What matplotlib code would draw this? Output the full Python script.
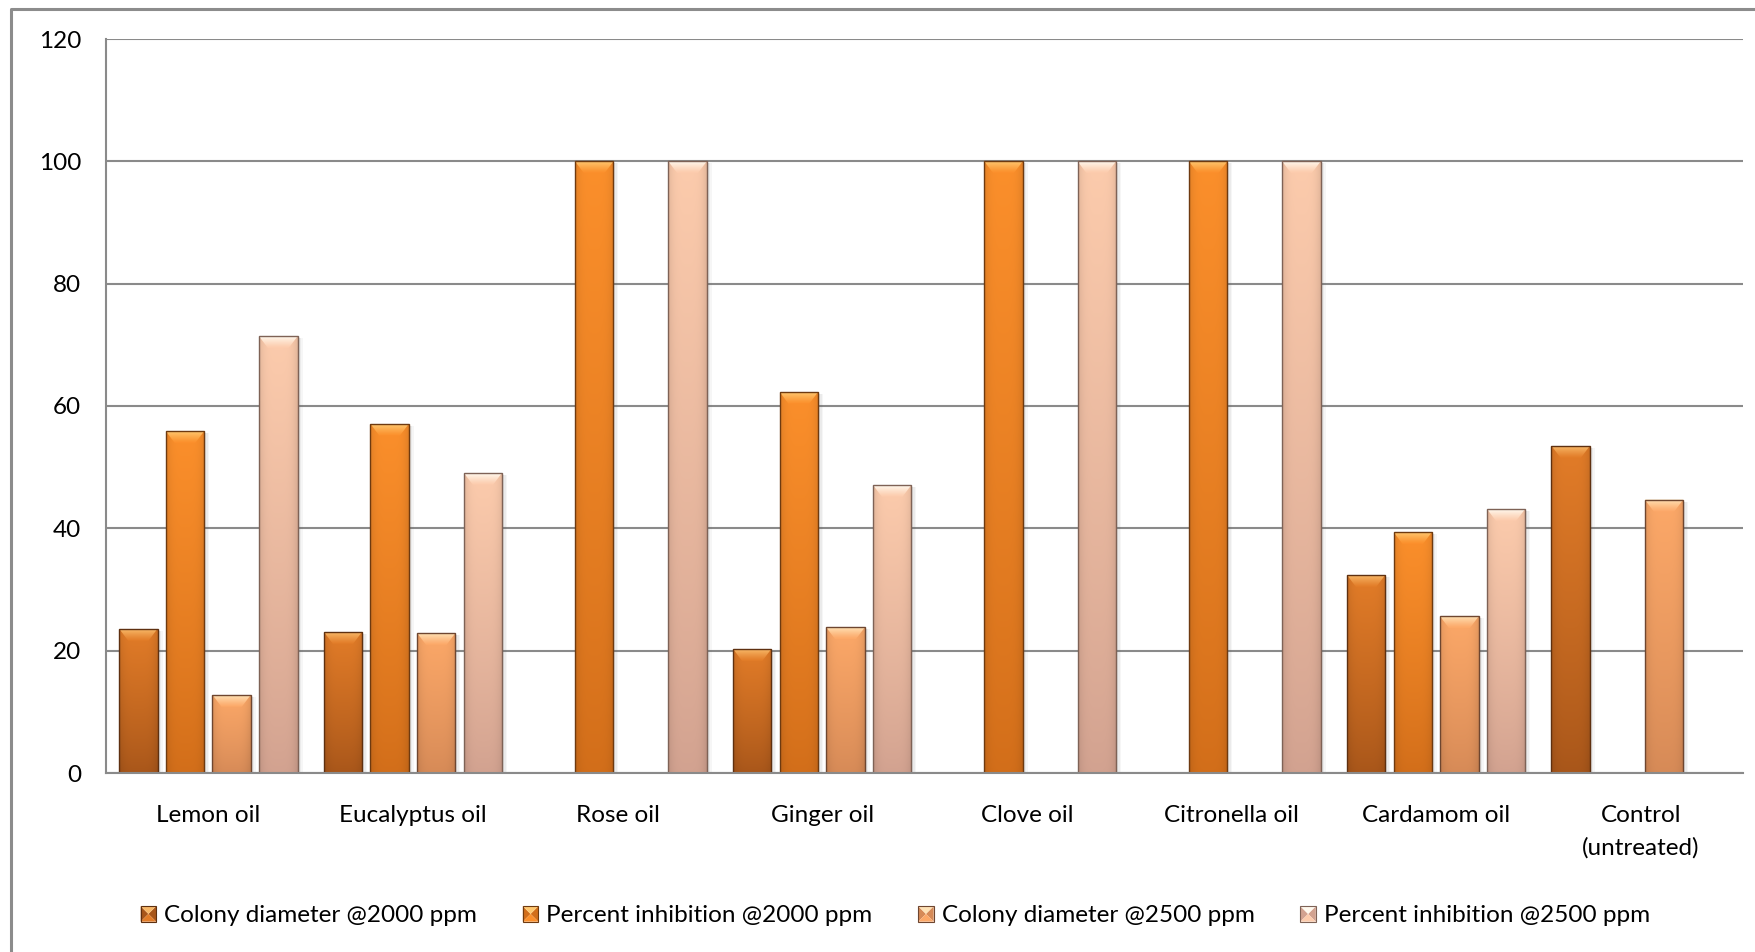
import numpy as np
import matplotlib
matplotlib.use("Agg")
import matplotlib.pyplot as plt
from matplotlib.patches import Polygon, Rectangle
from matplotlib.legend_handler import HandlerBase
from matplotlib.lines import Line2D
from matplotlib.colors import to_rgb

# ---- data -------------------------------------------------------------
categories = ["Lemon oil", "Eucalyptus oil", "Rose oil", "Ginger oil",
              "Clove oil", "Citronella oil", "Cardamom oil", "Control\n(untreated)"]
series_names = ["Colony diameter @2000 ppm", "Percent inhibition @2000 ppm",
                "Colony diameter @2500 ppm", "Percent inhibition @2500 ppm"]
colony_2000 = [23.6, 23.1, 0, 20.3, 0, 0, 32.4, 53.5]
inhibition_2000 = [55.9, 57.1, 100, 62.3, 100, 100, 39.4, 0]
colony_2500 = [12.8, 22.9, 0, 23.8, 0, 0, 25.6, 44.7]
inhibition_2500 = [71.4, 49.1, 100, 47.1, 100, 100, 43.2, 0]
y_ticks = [0, 20, 40, 60, 80, 100, 120]

series_values = [colony_2000, inhibition_2000, colony_2500, inhibition_2500]

# (top, bottom, highlight, edge) shades for each series
palette = [
    ("#E27C28", "#A8561A", "#F8B868", "#5E3010"),
    ("#FB8F2B", "#D26E1A", "#FFC870", "#6E3A10"),
    ("#FCA868", "#D68A57", "#FFE2B6", "#6E4630"),
    ("#FCCBAC", "#D2A290", "#FFF9EE", "#7E6256"),
]

plt.rcParams["font.family"] = ["Lato", "DejaVu Sans"]
FS = 17.5

W, H = 1756, 952
fig = plt.figure(figsize=(W / 100, H / 100), dpi=100)
fig.patch.set_facecolor("white")

left_px, right_px, top_px, bottom_px = 106, 1743, 39, 773
ax = fig.add_axes([left_px / W, 1 - bottom_px / H,
                   (right_px - left_px) / W, (bottom_px - top_px) / H])
ax.set_xlim(-0.5, len(categories) - 0.5)
ax.set_ylim(0, 120)

grid_col = "#8a8a8a"
ax.set_yticks(y_ticks)
ax.yaxis.grid(True, color=grid_col, linewidth=1.5)
ax.set_axisbelow(True)
for s in ["top", "right"]:
    ax.spines[s].set_visible(False)
for s in ["left", "bottom"]:
    ax.spines[s].set_color(grid_col)
    ax.spines[s].set_linewidth(1.5)
ax.tick_params(axis="y", length=0, pad=18, labelsize=FS)
ax.tick_params(axis="x", length=0, pad=23, labelsize=FS)
x = np.arange(len(categories))
ax.set_xticks(x)
ax.set_xticklabels(categories, linespacing=1.62)

# pixel -> data unit conversions
px_x = (len(categories)) / (right_px - left_px)
px_y = 120 / (bottom_px - top_px)

step, width = 0.228, 0.188


def body_image(top, bottom, nx=40, ny=120):
    t = np.linspace(0, 1, ny)[:, None, None]
    c_top = np.array(to_rgb(top))
    c_bot = np.array(to_rgb(bottom))
    col = c_bot + (c_top - c_bot) * t ** 0.85
    u = np.linspace(0, 1, nx)[None, :, None]
    side = 1 - 0.10 * (np.abs(u - 0.5) * 2) ** 4
    img = np.clip(col * side, 0, 1)
    return img


def bevel_image(hi, top, ny=30):
    t = np.linspace(0, 1, ny)[:, None, None]
    c_hi = np.array(to_rgb(hi))
    c_top = np.array(to_rgb(top))
    col = c_top + (c_hi - c_top) * t ** 1.2
    return np.repeat(col, 8, axis=1)


for i, (vals, (ctop, cbot, chi, cedge)) in enumerate(zip(series_values, palette)):
    bars = ax.bar(x + (i - 1.5) * step, vals, width, color=ctop,
                  linewidth=0, zorder=2, label=series_names[i])
    for p in bars.patches:
        h = p.get_height()
        if h <= 0:
            continue
        x0 = p.get_x()
        x1 = x0 + p.get_width()
        # soft shadow to the right
        for k, a in zip([5, 3.5, 2], [0.05, 0.07, 0.10]):
            ax.add_patch(Rectangle((x0 + k * px_x, 0), p.get_width(), h - 2 * px_y,
                                   facecolor="#606060", edgecolor="none",
                                   alpha=a, zorder=1.9))
        im = ax.imshow(body_image(ctop, cbot), extent=(x0, x1, 0, h),
                       origin="lower", aspect="auto", zorder=2.05,
                       interpolation="bilinear")
        im.set_clip_path(p)
        dx, dy = 9 * px_x, 12 * px_y
        dy = min(dy, h * 0.5)
        poly = Polygon([(x0, h), (x1, h), (x1 - dx, h - dy), (x0 + dx, h - dy)],
                       closed=True, transform=ax.transData)
        bim = ax.imshow(bevel_image(chi, ctop), extent=(x0, x1, h - dy, h),
                        origin="lower", aspect="auto", zorder=2.1,
                        interpolation="bilinear")
        bim.set_clip_path(poly)
        ax.add_patch(Rectangle((x0, 0), p.get_width(), h, fill=False,
                               edgecolor=cedge, linewidth=1.0, zorder=2.3))

ax.set_xlim(-0.5, len(categories) - 0.5)
ax.set_ylim(0, 120)


# ---- legend with bevelled square swatches ------------------------------
class BevelSwatch(HandlerBase):
    def __init__(self, shades):
        super().__init__()
        self.shades = shades

    def create_artists(self, legend, orig_handle, xdescent, ydescent,
                       width, height, fontsize, trans):
        ctop, cbot, chi, cedge = self.shades
        s = height * 1.0
        cx = width / 2 - xdescent
        cy = height / 2 - ydescent
        l, r, b, t = cx - s / 2, cx + s / 2, cy - s / 2, cy + s / 2
        arts = [
            Polygon([(l, b), (cx, cy), (l, t)], closed=True, facecolor=cbot, edgecolor="none"),
            Polygon([(r, b), (cx, cy), (r, t)], closed=True, facecolor=cbot, edgecolor="none"),
            Polygon([(l, t), (r, t), (cx, cy)], closed=True, facecolor=chi, edgecolor="none"),
            Polygon([(l, b), (r, b), (cx, cy)], closed=True, facecolor=ctop, edgecolor="none"),
            Rectangle((l, b), s, s, fill=False, edgecolor=cedge, linewidth=0.8),
        ]
        for a in arts:
            a.set_transform(trans)
        return arts


proxies = [Rectangle((0, 0), 1, 1) for _ in series_names]
hmap = {p: BevelSwatch(c) for p, c in zip(proxies, palette)}
fig.legend(proxies, series_names, handler_map=hmap, loc="center",
           bbox_to_anchor=(0.51, 1 - 916 / H), ncol=4, frameon=False,
           fontsize=FS, handlelength=0.6, handleheight=0.6,
           handletextpad=0.35, columnspacing=1.9)

# ---- outer chart frame ------------------------------------------------
fig.add_artist(Line2D([11 / W, 11 / W, 1.0], [0.0, 1 - 9 / H, 1 - 9 / H],
                      transform=fig.transFigure, color="#8c8c8c", linewidth=2.2))

fig.savefig("out.png", dpi=100)
